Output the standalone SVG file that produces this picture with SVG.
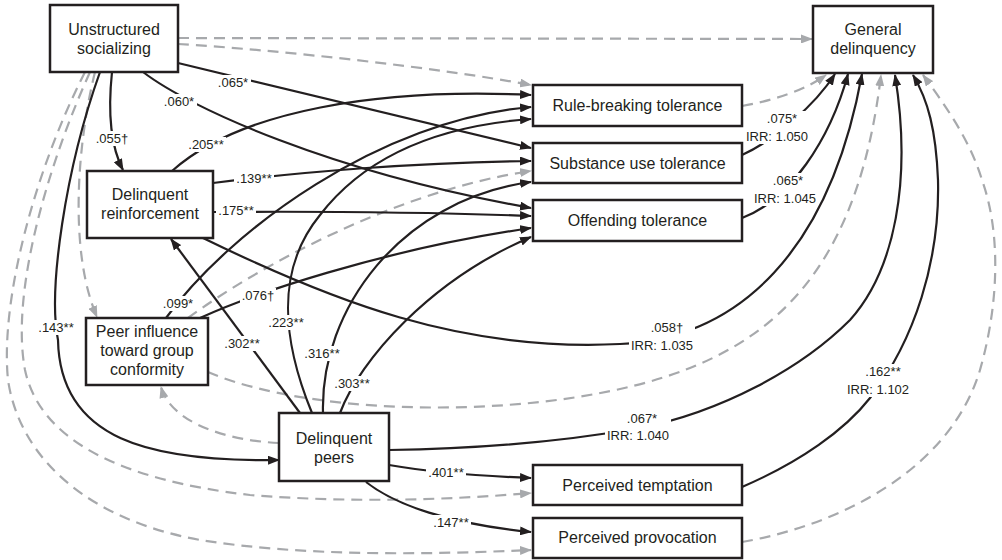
<svg xmlns="http://www.w3.org/2000/svg" width="1002" height="560" viewBox="0 0 1002 560">
<style>
.box{fill:#fff;stroke:#231f20;stroke-width:2.5}
.nt{font-family:"Liberation Sans",Arial,sans-serif;font-size:16px;fill:#231f20;text-anchor:middle}
.sig{fill:none;stroke:#231f20;stroke-width:2.2;marker-end:url(#ab)}
.ns{fill:none;stroke:#a7a9ac;stroke-width:2.2;stroke-dasharray:11 7;marker-end:url(#ag)}
.lt{font-family:"Liberation Sans",Arial,sans-serif;font-size:13px;fill:#231f20;text-anchor:middle}
.lb{fill:#fff}
</style>
<defs>
<marker id="ab" viewBox="0 0 12 9" refX="11" refY="4.5" markerWidth="12" markerHeight="9" markerUnits="userSpaceOnUse" orient="auto"><path d="M0,0 L12,4.5 L0,9 z" fill="#231f20"/></marker>
<marker id="ag" viewBox="0 0 12 9" refX="11" refY="4.5" markerWidth="12" markerHeight="9" markerUnits="userSpaceOnUse" orient="auto"><path d="M0,0 L12,4.5 L0,9 z" fill="#a7a9ac"/></marker>
</defs>
<rect width="1002" height="560" fill="#fff"/>
<g id="connectors">
<path class="ns" d="M178,38 L812,39"/>
<path class="ns" d="M178,44 C280,50 440,68 531,85"/>
<path class="ns" d="M742,106 C775,100 805,90 826,75"/>
<path class="ns" d="M188,318 C260,265 400,190 531,171"/>
<path class="ns" d="M208,372 C320,420 560,420 690,368 C790,328 860,250 881,75"/>
<path class="ns" d="M279,443 C220,440 170,420 161,387"/>
<path class="ns" d="M95,72 C78,140 68,250 97,317"/>
<path class="ns" d="M90,72 C50,160 10,290 25,370 C40,440 120,480 250,495 C350,503 450,500 531,493"/>
<path class="ns" d="M85,72 C35,170 0,300 8,380 C20,460 90,520 200,540 C300,556 420,555 531,550"/>
<path class="ns" d="M742,542 C840,525 950,470 980,370 C1000,300 1000,230 982,180 C970,140 945,105 923,75"/>
<path class="sig" d="M742,155 C775,140 815,105 835,74"/>
<path class="sig" d="M742,218 C790,200 830,140 848,74"/>
<path class="sig" d="M203,238 C330,300 460,352 620,344 C740,338 830,250 862,74"/>
<path class="sig" d="M389,450 C470,449 560,442 640,428 C720,412 800,370 850,320 C895,270 912,180 895,75"/>
<path class="sig" d="M742,487 C800,462 845,430 870,398 C915,340 940,260 938,180 C936,130 928,100 913,75"/>
<path class="sig" d="M112,72 C108,110 110,145 123,170"/>
<path class="sig" d="M178,63 L531,148"/>
<path class="sig" d="M143,72 C190,108 330,172 531,208"/>
<path class="sig" d="M172,171 C240,110 380,88 531,95"/>
<path class="sig" d="M213,183 C300,172 420,162 531,161"/>
<path class="sig" d="M213,212 C350,211 450,213 531,216"/>
<path class="sig" d="M166,318 C230,230 380,120 531,107"/>
<path class="sig" d="M200,318 C250,295 380,250 531,228"/>
<path class="sig" d="M300,413 L171,239"/>
<path class="sig" d="M312,413 C282,340 275,270 320,215 C370,150 450,125 531,119"/>
<path class="sig" d="M323,413 C320,310 400,200 531,182"/>
<path class="sig" d="M340,413 C360,360 430,280 531,237"/>
<path class="sig" d="M100,72 C65,170 48,290 58,340 C60,440 150,462 279,460"/>
<path class="sig" d="M389,465 C430,472 480,476 531,478"/>
<path class="sig" d="M366,482 C395,505 450,524 531,532"/>
</g>
<g id="labels">
<rect class="lb" x="215" y="75" width="36" height="15"/><text class="lt" x="233" y="87">.065*</text>
<rect class="lb" x="161" y="94" width="36" height="15"/><text class="lt" x="179" y="106">.060*</text>
<rect class="lb" x="94" y="131" width="36" height="15"/><text class="lt" x="112" y="143">.055†</text>
<rect class="lb" x="186" y="137" width="40" height="15"/><text class="lt" x="206" y="149">.205**</text>
<rect class="lb" x="234" y="171" width="40" height="15"/><text class="lt" x="254" y="183">.139**</text>
<rect class="lb" x="216" y="203" width="40" height="15"/><text class="lt" x="236" y="215">.175**</text>
<rect class="lb" x="160" y="296" width="36" height="15"/><text class="lt" x="178" y="308">.099*</text>
<rect class="lb" x="240" y="288" width="36" height="15"/><text class="lt" x="258" y="300">.076†</text>
<rect class="lb" x="36" y="320" width="40" height="15"/><text class="lt" x="56" y="332">.143**</text>
<rect class="lb" x="222" y="336" width="40" height="15"/><text class="lt" x="242" y="348">.302**</text>
<rect class="lb" x="266" y="315" width="40" height="15"/><text class="lt" x="286" y="327">.223**</text>
<rect class="lb" x="302" y="346" width="40" height="15"/><text class="lt" x="322" y="358">.316**</text>
<rect class="lb" x="332" y="376" width="40" height="15"/><text class="lt" x="352" y="388">.303**</text>
<rect class="lb" x="629" y="320" width="66" height="33"/><text class="lt" x="667" y="332">.058†</text><text class="lt" x="662" y="350">IRR: 1.035</text>
<rect class="lb" x="744" y="111" width="66" height="33"/><text class="lt" x="782" y="123">.075*</text><text class="lt" x="777" y="141">IRR: 1.050</text>
<rect class="lb" x="752" y="173" width="66" height="33"/><text class="lt" x="788" y="185">.065*</text><text class="lt" x="785" y="203">IRR: 1.045</text>
<rect class="lb" x="605" y="411" width="66" height="32"/><text class="lt" x="642" y="423">.067*</text><text class="lt" x="638" y="440">IRR: 1.040</text>
<rect class="lb" x="845" y="364" width="66" height="33"/><text class="lt" x="883" y="376">.162**</text><text class="lt" x="878" y="394">IRR: 1.102</text>
<rect class="lb" x="426" y="465" width="40" height="15"/><text class="lt" x="446" y="477">.401**</text>
<rect class="lb" x="431" y="515" width="40" height="15"/><text class="lt" x="451" y="527">.147**</text>
</g>
<g id="node-unstructured"><rect class="box" x="50" y="5" width="128" height="67"/><text class="nt" x="114" y="35">Unstructured</text><text class="nt" x="114" y="54">socializing</text></g>
<g id="node-general"><rect class="box" x="813" y="6" width="120" height="67"/><text class="nt" x="873" y="35">General</text><text class="nt" x="873" y="54">delinquency</text></g>
<g id="node-rule"><rect class="box" x="533" y="85" width="209" height="41"/><text class="nt" x="637.5" y="111">Rule-breaking tolerance</text></g>
<g id="node-substance"><rect class="box" x="533" y="143" width="209" height="40"/><text class="nt" x="637.5" y="169">Substance use tolerance</text></g>
<g id="node-offending"><rect class="box" x="533" y="200" width="209" height="41"/><text class="nt" x="637.5" y="226">Offending tolerance</text></g>
<g id="node-reinforcement"><rect class="box" x="87" y="171" width="126" height="67"/><text class="nt" x="150" y="200">Delinquent</text><text class="nt" x="150" y="219">reinforcement</text></g>
<g id="node-peerinfluence"><rect class="box" x="86" y="318" width="122" height="67"/><text class="nt" x="147" y="337">Peer influence</text><text class="nt" x="147" y="356">toward group</text><text class="nt" x="147" y="375">conformity</text></g>
<g id="node-peers"><rect class="box" x="279" y="413" width="110" height="68"/><text class="nt" x="334" y="444">Delinquent</text><text class="nt" x="334" y="463">peers</text></g>
<g id="node-temptation"><rect class="box" x="533" y="465" width="209" height="40"/><text class="nt" x="637.5" y="491">Perceived temptation</text></g>
<g id="node-provocation"><rect class="box" x="533" y="518" width="209" height="40"/><text class="nt" x="637.5" y="543">Perceived provocation</text></g>
</svg>
